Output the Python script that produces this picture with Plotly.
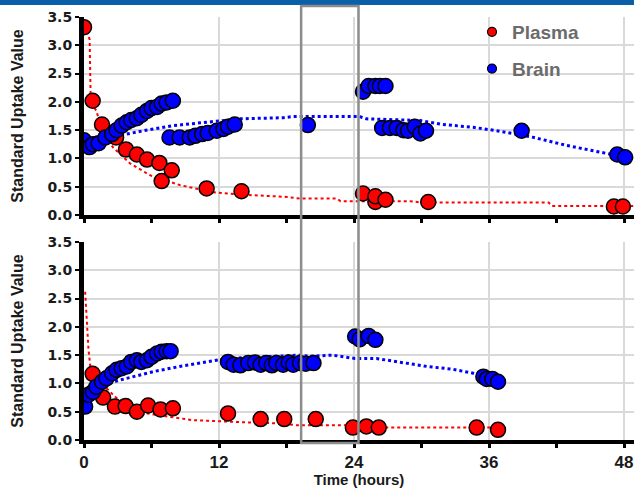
import plotly.graph_objects as go

# ---------------- data ----------------
# Top panel
top_plasma_t = [0, 0.77, 1.6, 2.85, 3.73, 4.7, 5.6, 6.7, 6.9, 7.8, 10.9, 14.0,
                24.8, 25.9, 25.9, 26.8, 30.6, 47.1, 47.9]
top_plasma_v = [3.32, 2.02, 1.60, 1.37, 1.16, 1.07, 0.98, 0.92, 0.60, 0.79, 0.47, 0.42,
                0.38, 0.23, 0.33, 0.27, 0.23, 0.15, 0.15]

top_brain_t = [0, 0.5, 0.8, 1.3, 1.9, 2.5, 2.9, 3.35, 3.8, 4.2, 4.7, 5.1, 5.6, 6.0, 6.5, 6.9, 7.35, 7.9,
               7.6, 8.5, 9.4, 9.9, 10.5, 11.0, 11.8, 12.4, 12.8, 13.4,
               19.9,
               24.8, 25.3, 25.9, 26.3, 26.8,
               26.5, 27.2, 27.8, 28.4, 28.8, 29.4, 29.9, 30.4,
               38.9, 47.4, 48.1]
top_brain_v = [1.32, 1.20, 1.25, 1.27, 1.37, 1.43, 1.50, 1.58, 1.64, 1.68, 1.71, 1.77, 1.84, 1.89, 1.91, 1.97, 1.99, 2.02,
               1.37, 1.37, 1.37, 1.40, 1.43, 1.45, 1.49, 1.52, 1.56, 1.60,
               1.59,
               2.18, 2.28, 2.28, 2.28, 2.28,
               1.54, 1.54, 1.54, 1.50, 1.49, 1.56, 1.44, 1.49,
               1.49, 1.07, 1.02]

top_plasma_fit_t = [0.15, 0.5, 0.6, 1.1, 1.7, 2.6, 4.1, 5.9, 8.5, 11.5, 14.0, 18.0, 19.2, 22.5,
                    22.8, 29.0, 30.0, 41.3, 41.6, 48.9]
top_plasma_fit_v = [3.35, 3.10, 2.00, 1.84, 1.44, 1.19, 0.91, 0.70, 0.53, 0.40, 0.36, 0.32, 0.29, 0.29,
                    0.245, 0.245, 0.22, 0.22, 0.16, 0.16]

top_brain_fit_t = [0.8, 2.0, 3.8, 5.3, 7.9, 10.9, 13.9, 17.7, 18.6, 24.5, 25.1, 29.9, 31.9, 34.6,
                   37.0, 40.0, 42.9, 45.9, 47.5]
top_brain_fit_v = [1.22, 1.33, 1.43, 1.49, 1.58, 1.64, 1.70, 1.72, 1.74, 1.74, 1.70, 1.67, 1.60, 1.55,
                   1.48, 1.37, 1.23, 1.11, 1.05]

# Bottom panel
bot_plasma_t = [0.77, 1.7, 2.75, 3.7, 4.7, 5.7, 6.8, 7.9, 12.8, 15.7, 17.8, 20.6,
                23.9, 25.1, 26.2, 34.9, 36.8]
bot_plasma_v = [1.17, 0.75, 0.59, 0.60, 0.50, 0.61, 0.54, 0.56, 0.47, 0.37, 0.37, 0.37,
                0.22, 0.24, 0.22, 0.22, 0.18]

bot_brain_t = [0, 0.1, 0.4, 0.8, 1.1, 1.6, 2.0, 2.5, 2.9, 3.35, 3.8, 4.2, 4.7, 5.1, 5.6, 6.0, 6.5, 6.9, 7.35, 7.7,
               12.8, 13.3, 13.9, 14.6, 15.2, 15.7, 16.2, 16.7, 17.1, 17.7, 18.2, 18.6, 19.2, 19.7, 20.4,
               24.1, 24.5, 25.3, 25.9,
               35.5, 35.8, 36.3, 36.8]
bot_brain_v = [0.62, 0.59, 0.80, 0.85, 0.94, 1.03, 1.09, 1.18, 1.24, 1.27, 1.30, 1.38, 1.41, 1.38, 1.41, 1.47, 1.53, 1.56, 1.57, 1.57,
               1.38, 1.33, 1.32, 1.36, 1.37, 1.33, 1.36, 1.32, 1.36, 1.33, 1.37, 1.33, 1.36, 1.35, 1.36,
               1.83, 1.78, 1.84, 1.77,
               1.12, 1.08, 1.08, 1.03]

bot_plasma_fit_t = [0.1, 0.4, 0.55, 1.4, 2.9, 5.3, 7.6, 9.7, 13.3, 17.7, 18.9, 24.0, 24.3, 36.5]
bot_plasma_fit_v = [2.62, 1.60, 1.32, 1.03, 0.74, 0.48, 0.41, 0.35, 0.32, 0.29, 0.26, 0.26, 0.22, 0.22]

bot_brain_fit_t = [0.5, 1.4, 3.2, 4.4, 6.2, 8.5, 10.9, 12.7, 19.2, 20.1, 22.1, 24.1, 26.0, 28.1,
                   30.5, 32.8, 34.6, 35.5]
bot_brain_fit_v = [0.78, 0.95, 1.06, 1.12, 1.21, 1.30, 1.38, 1.44, 1.50, 1.48, 1.50, 1.44, 1.44, 1.38,
                   1.30, 1.25, 1.18, 1.12]

series_names = ["Plasma", "Brain"]
y_ticks = [0, 0.5, 1.0, 1.5, 2.0, 2.5, 3.0, 3.5]
x_ticks = [0, 12, 24, 36, 48]

# ---------------- styling ----------------
RED = "#ff0000"
BLUE = "#0000ff"
FONT = "Arial, 'Liberation Sans', sans-serif"
TICKFONT = "'DejaVu Sans', Arial, sans-serif"
W, H = 634, 488
ML, MR, MT, MB = 84, 0, 17, 48
PH = H - MT - MB
PW = W - ML - MR

fig = go.Figure()

def add_panel(xa, ya, pt, pv, bt, bv, pft, pfv, bft, bfv):
    fig.add_trace(go.Scatter(x=pft, y=pfv, mode="lines", xaxis=xa, yaxis=ya,
                             line=dict(color=RED, width=2, dash="dot"), showlegend=False,
                             hoverinfo="skip"))
    fig.add_trace(go.Scatter(x=bft, y=bfv, mode="lines", xaxis=xa, yaxis=ya,
                             line=dict(color=BLUE, width=3, dash="dot"), showlegend=False,
                             hoverinfo="skip"))
    fig.add_trace(go.Scatter(x=pt, y=pv, mode="markers", xaxis=xa, yaxis=ya,
                             marker=dict(color=RED, size=15, line=dict(color="black", width=1.5)),
                             name=series_names[0], showlegend=False))
    fig.add_trace(go.Scatter(x=bt, y=bv, mode="markers", xaxis=xa, yaxis=ya,
                             marker=dict(color=BLUE, size=15, line=dict(color="black", width=1.5)),
                             name=series_names[1], showlegend=False))

add_panel("x2", "y2", top_plasma_t, top_plasma_v, top_brain_t, top_brain_v,
          top_plasma_fit_t, top_plasma_fit_v, top_brain_fit_t, top_brain_fit_v)
add_panel("x", "y", bot_plasma_t, bot_plasma_v, bot_brain_t, bot_brain_v,
          bot_plasma_fit_t, bot_plasma_fit_v, bot_brain_fit_t, bot_brain_fit_v)

# legend entries
for nm, col in zip(series_names, [RED, BLUE]):
    fig.add_trace(go.Scatter(x=[None], y=[None], mode="markers", xaxis="x2", yaxis="y2",
                             marker=dict(color=col, size=9, line=dict(color="black", width=1.2)),
                             name=nm, legendgroup=nm, showlegend=True))

xr = [0, PW / 11.25]
common_x = dict(range=xr, showline=True, linewidth=4, linecolor="black",
                showgrid=True, gridcolor="#d9d9d9", gridwidth=1.5,
                tickmode="array", tickvals=x_ticks,
                ticks="outside", ticklen=4, tickwidth=3, tickcolor="black",
                minor=dict(dtick=6, tick0=0, ticks="outside", ticklen=4, tickwidth=3,
                           tickcolor="black", showgrid=False),
                zeroline=False, fixedrange=True, automargin=False)
common_y = dict(range=[0, 3.5], showline=True, linewidth=5, linecolor="black",
                showgrid=True, gridcolor="#d9d9d9", gridwidth=1.5,
                tickmode="array", tickvals=y_ticks, tickformat=".1f",
                ticks="outside", ticklen=4, tickwidth=2, tickcolor="black",
                tickfont=dict(family=TICKFONT, size=14, color="#1a1a1a", weight="bold"),
                zeroline=False, fixedrange=True, automargin=False)

bot_dom = [0, 198 / PH]
top_dom = [225 / PH, 1]
ytitle = dict(text="Standard Uptake Value", font=dict(family=FONT, size=16, weight="bold"),
              standoff=21)

fig.update_layout(
    width=W, height=H,
    margin=dict(l=ML, r=MR, t=MT, b=MB, pad=0, autoexpand=False),
    paper_bgcolor="white", plot_bgcolor="white",
    font=dict(family=FONT, color="#1a1a1a"),
    xaxis=dict(**common_x, anchor="y",
               tickfont=dict(family=FONT, size=17, color="#1a1a1a", weight="bold"),
               title=dict(text="Time (hours)", font=dict(family=FONT, size=15, weight="bold"),
                          standoff=0)),
    xaxis2=dict(**common_x, anchor="y2", matches="x", showticklabels=False),
    yaxis=dict(**common_y, domain=bot_dom, anchor="x", title=ytitle),
    yaxis2=dict(**common_y, domain=top_dom, anchor="x2", title=ytitle),
    legend=dict(x=(472 - ML) / PW, y=1 + 4 / PH, xanchor="left", yanchor="top",
                bgcolor="rgba(0,0,0,0)", borderwidth=0, tracegroupgap=9,
                font=dict(family=FONT, size=19, color="#6b6b6b", weight="bold"),
                itemsizing="trace", itemwidth=30),
    showlegend=True,
)

# top blue band
fig.add_shape(type="rect", xref="paper", yref="paper",
              x0=-ML / PW, x1=1 + 1 / PW,
              y0=1 + (MT - 5) / PH, y1=1 + (MT + 2) / PH,
              fillcolor="#0b5fa8", line=dict(width=0), layer="above")
# gray highlight box
fig.add_shape(type="rect", xref="x", yref="paper",
              x0=19.3, x1=24.4, y0=-3 / PH, y1=1 + (MT - 6) / PH,
              line=dict(color="#8c8c8c", width=2.5), fillcolor="rgba(0,0,0,0)", layer="above")

fig.write_html("out.html", config={"displayModeBar": False},
               post_script="document.body.style.margin='0';document.body.style.overflow='hidden';")
